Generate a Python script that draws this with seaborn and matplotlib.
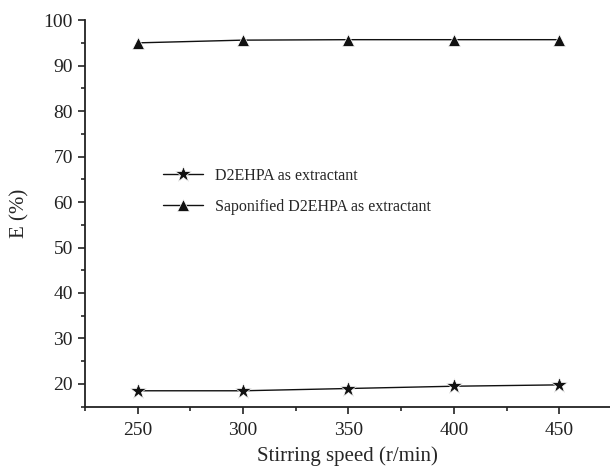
import pandas as pd
import matplotlib
matplotlib.use('Agg')
import matplotlib.pyplot as plt
from matplotlib.ticker import MultipleLocator
import seaborn as sns

# Data
stirring_speed = [250, 300, 350, 400, 450]
e_d2ehpa = [18.5, 18.5, 19.0, 19.5, 19.8]
e_saponified = [95.0, 95.6, 95.7, 95.7, 95.7]
series_names = ['D2EHPA as extractant', 'Saponified D2EHPA as extractant']

df = pd.DataFrame({
    'speed': stirring_speed * 2,
    'E': e_d2ehpa + e_saponified,
    'series': [series_names[0]] * 5 + [series_names[1]] * 5,
})

sns.set_style('ticks')
plt.rcParams['font.family'] = ['Liberation Serif', 'DejaVu Serif']

fig = plt.figure(figsize=(6.1, 4.68), dpi=100)
ax = fig.add_axes([0.139, 0.131, 0.861, 0.826])

sns.lineplot(data=df, x='speed', y='E', hue='series', style='series',
             palette=['#111111', '#111111'],
             markers={series_names[0]: '*', series_names[1]: '^'},
             dashes=False, markeredgewidth=0.5,
             linewidth=1.0, ax=ax)

# marker sizes differ per series
sizes = {'*': 12, '^': 8}
for line in ax.get_lines():
    m = line.get_marker()
    if m in sizes:
        line.set_markersize(sizes[m])

ax.set_xlim(225, 474)
ax.set_ylim(15, 100)
ax.xaxis.set_major_locator(MultipleLocator(50))
ax.xaxis.set_minor_locator(MultipleLocator(25))
ax.yaxis.set_major_locator(MultipleLocator(10))
ax.yaxis.set_minor_locator(MultipleLocator(5))
ax.tick_params(which='major', direction='out', length=5, width=1.2,
               labelsize=14, colors='#222222')
ax.tick_params(axis='x', which='major', pad=6)
ax.tick_params(which='minor', direction='out', length=3, width=1.2)
for s in ['left', 'bottom']:
    ax.spines[s].set_linewidth(1.3)
    ax.spines[s].set_color('#222222')
sns.despine(ax=ax)

ax.set_xlabel('Stirring speed (r/min)', fontsize=15, labelpad=5)
ax.set_ylabel('E (%)', fontsize=15, labelpad=10)

handles, labels = ax.get_legend_handles_labels()
for h in handles:
    m = h.get_marker()
    if m in sizes:
        h.set_markersize(sizes[m])
ax.legend(handles, labels, loc='center left', bbox_to_anchor=(0.149, 0.557),
          frameon=False, fontsize=11.5, handlelength=2.5, handletextpad=0.75,
          labelspacing=0.95, borderpad=0, borderaxespad=0)

fig.savefig('out.png', dpi=100)
